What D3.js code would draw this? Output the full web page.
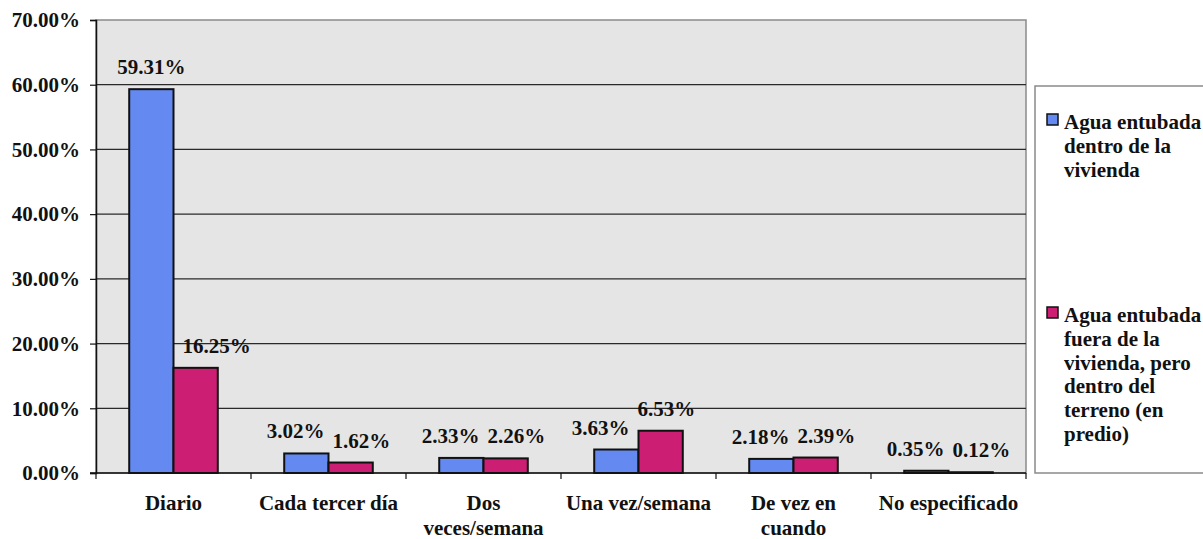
<!DOCTYPE html>
<html>
<head>
<meta charset="utf-8">
<script src="https://cdn.jsdelivr.net/npm/d3@7"></script>
<style>
  body { margin: 0; background: #fff; }
</style>
</head>
<body>
<svg id="chart" width="1203" height="539"></svg>
<script>
// Frecuencia de dotación de agua, porcentaje de viviendas
const categories = ["Diario", "Cada tercer día", "Dos\nveces/semana", "Una vez/semana", "De vez en\ncuando", "No especificado"];
const dentro = [59.31, 3.02, 2.33, 3.63, 2.18, 0.35];
const fuera  = [16.25, 1.62, 2.26, 6.53, 2.39, 0.12];
const yTicks = [0, 10, 20, 30, 40, 50, 60, 70];
const seriesLabels = [
  ["Agua entubada", "dentro de la", "vivienda"],
  ["Agua entubada", "fuera de la", "vivienda, pero", "dentro del", "terreno (en", "predio)"]
];
const colors = ["#648af2", "#cc1f74"];

const FONT = '"Liberation Serif"';
const FS = 21;
const series = [dentro, fuera];
const svg = d3.select("#chart");
const plot = { left: 96, right: 1026, top: 20, bottom: 473 };

function styleText(sel) {
  return sel.attr("font-family", "Liberation Serif").style("font-family", FONT)
    .attr("font-weight", "bold").attr("font-size", FS).attr("fill", "#111");
}

const x = d3.scaleBand().domain(categories).range([plot.left, plot.right]).padding(0);
const xs = d3.scaleBand().domain([0, 1]).range([0, x.bandwidth()]).paddingInner(0).paddingOuter(0.75);
const y = d3.scaleLinear().domain([0, 70]).range([plot.bottom, plot.top]);
const fmt = v => d3.format(".2f")(v) + "%";

// plot area
svg.append("rect")
  .attr("x", plot.left).attr("y", plot.top)
  .attr("width", plot.right - plot.left).attr("height", plot.bottom - plot.top)
  .attr("fill", "#e5e5e5").attr("stroke", "#8a8a8a").attr("stroke-width", 1.5);

// gridlines
svg.append("g").selectAll("line")
  .data(yTicks.filter(t => t > 0 && t < 70))
  .join("line")
  .attr("x1", plot.left).attr("x2", plot.right)
  .attr("y1", d => y(d)).attr("y2", d => y(d))
  .attr("stroke", "#2a2a2a").attr("stroke-width", 1.2);

// y axis
const yAxis = svg.append("g")
  .attr("transform", `translate(${plot.left},0)`)
  .call(d3.axisLeft(y).tickValues(yTicks).tickFormat(d => d3.format(".2f")(d) + "%").tickSize(6).tickPadding(10));
yAxis.attr("font-family", null).attr("font-size", null);
yAxis.select(".domain").attr("stroke", "#111").attr("stroke-width", 1.5);
yAxis.selectAll(".tick line").attr("stroke", "#111").attr("stroke-width", 1.2);
styleText(yAxis.selectAll("text"));

// x axis line with ticks at category boundaries
svg.append("line")
  .attr("x1", plot.left - 6).attr("x2", plot.right)
  .attr("y1", plot.bottom).attr("y2", plot.bottom)
  .attr("stroke", "#111").attr("stroke-width", 1.5);
svg.append("g").selectAll("line")
  .data(categories.map(c => x(c)).concat([plot.right]))
  .join("line")
  .attr("x1", d => d).attr("x2", d => d)
  .attr("y1", plot.bottom).attr("y2", plot.bottom + 6)
  .attr("stroke", "#111").attr("stroke-width", 1.2);

// category labels
const cat = styleText(svg.append("g").selectAll("text")
  .data(categories)
  .join("text"))
  .attr("text-anchor", "middle")
  .attr("x", d => x(d) + x.bandwidth() / 2)
  .attr("y", 510);
cat.selectAll("tspan")
  .data(d => d.split("\n"))
  .join("tspan")
  .attr("x", function () { return this.parentNode.getAttribute("x"); })
  .attr("dy", (d, i) => i === 0 ? 0 : 25)
  .text(d => d);

// bars
const groups = svg.append("g").selectAll("g")
  .data(categories)
  .join("g")
  .attr("transform", d => `translate(${x(d)},0)`);
groups.selectAll("rect")
  .data((d, i) => series.map((s, k) => ({ k, v: s[i] })))
  .join("rect")
  .attr("x", d => xs(d.k))
  .attr("width", xs.bandwidth())
  .attr("y", d => y(d.v))
  .attr("height", d => y(0) - y(d.v))
  .attr("fill", d => colors[d.k])
  .attr("stroke", "#111").attr("stroke-width", 2);

// value labels, nudged apart when they would collide with each other or the neighbour bar
const labelLayer = svg.append("g");
categories.forEach((c, i) => {
  const bars = series.map((s, k) => {
    const left = x(c) + xs(k);
    return { left, right: left + xs.bandwidth(), top: y(s[i]), v: s[i] };
  });
  const labs = bars.map(b => {
    const base = b.top - 15;
    const t = styleText(labelLayer.append("text"))
      .attr("text-anchor", "middle").attr("y", base).text(fmt(b.v));
    const w = t.node().getComputedTextLength();
    return { t, w, cx: (b.left + b.right) / 2, base };
  });
  const pad = 9, gap = 8;
  const [L, R] = labs;
  let lockL = false, lockR = false;
  if (bars[1].top < L.base + 4 && L.cx + L.w / 2 > bars[1].left - pad) {
    L.cx = bars[1].left - pad - L.w / 2; lockL = true;
  }
  if (bars[0].top < R.base + 4 && R.cx - R.w / 2 < bars[0].right + pad) {
    R.cx = bars[0].right + pad + R.w / 2; lockR = true;
  }
  const vOverlap = Math.abs(L.base - R.base) < 20;
  const need = (L.cx + L.w / 2 + gap) - (R.cx - R.w / 2);
  if (vOverlap && need > 0) {
    if (lockL && !lockR) R.cx += need;
    else if (lockR && !lockL) L.cx -= need;
    else { L.cx -= need / 2; R.cx += need / 2; }
  }
  labs.forEach(l => l.t.attr("x", l.cx));
});

// legend
const lg = svg.append("g");
lg.append("rect")
  .attr("x", 1035).attr("y", 86).attr("width", 220).attr("height", 387)
  .attr("fill", "#fff").attr("stroke", "#8a8a8a").attr("stroke-width", 1.5);
const legendTop = [129, 322];
seriesLabels.forEach((lines, k) => {
  lg.append("rect")
    .attr("x", 1047).attr("y", legendTop[k] - 15).attr("width", 11).attr("height", 11)
    .attr("fill", colors[k]).attr("stroke", "#111").attr("stroke-width", 1.5);
  const t = styleText(lg.append("text")).attr("x", 1064).attr("y", legendTop[k]);
  t.selectAll("tspan").data(lines).join("tspan")
    .attr("x", 1064).attr("dy", (d, i) => i === 0 ? 0 : 23.8).text(d => d);
});
</script>
</body>
</html>
